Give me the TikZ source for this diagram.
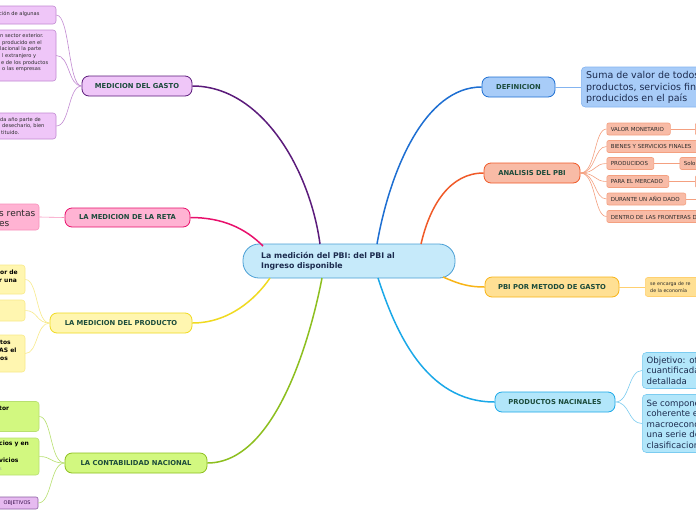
\documentclass[tikz,border=0pt]{standalone}
\usepackage{fontspec}
\setmainfont{DejaVu Sans}
\definecolor{cPur}{HTML}{5B1B7B}
\definecolor{cPurF}{HTML}{EFC6F8}
\definecolor{cPurL}{HTML}{C28AD2}
\definecolor{cMag}{HTML}{E8106C}
\definecolor{cMagF}{HTML}{FFB3D3}
\definecolor{cMagL}{HTML}{F890BC}
\definecolor{cYel}{HTML}{F0DA20}
\definecolor{cYelF}{HTML}{FFF6B0}
\definecolor{cYelL}{HTML}{F8EA8A}
\definecolor{cGrn}{HTML}{8DBF1F}
\definecolor{cGrnF}{HTML}{D2F880}
\definecolor{cGrnL}{HTML}{B8E070}
\definecolor{cBlu}{HTML}{1E6FD2}
\definecolor{cBluF}{HTML}{A8CCF8}
\definecolor{cBluL}{HTML}{84B4F0}
\definecolor{cOra}{HTML}{F05A28}
\definecolor{cOraF}{HTML}{F8BBA6}
\definecolor{cOraL}{HTML}{F4A080}
\definecolor{cGol}{HTML}{F8B416}
\definecolor{cGolF}{HTML}{FFE094}
\definecolor{cGolL}{HTML}{FFD070}
\definecolor{cCya}{HTML}{1AA8E8}
\definecolor{cCyaF}{HTML}{B2E6FA}
\definecolor{cCyaL}{HTML}{7CCCF0}
\definecolor{cCenF}{HTML}{C6EAFA}
\definecolor{cCenD}{HTML}{4A9FD5}
\definecolor{tGreen}{HTML}{1B4B3B}
\definecolor{tNavy}{HTML}{1C2B4E}
\definecolor{tDark}{HTML}{2A2A2A}
\begin{document}
\begin{tikzpicture}[x=1pt,y=-1pt,
  branch/.style={rounded corners=7pt, line width=0.8pt, minimum height=20pt, inner sep=0pt,
    font=\fontsize{6.8}{8}\selectfont\bfseries, text=tGreen},
  leaf/.style={rounded corners=3pt, line width=0.6pt, inner sep=0pt},
  small/.style={rounded corners=2pt, line width=0.6pt, inner xsep=4pt, inner ysep=0pt, minimum height=12pt,
    font=\fontsize{5.5}{6}\selectfont, text=tDark, anchor=west, align=left, text width=#1},
  txt/.style={inner sep=0pt, anchor=west, align=left, text=tDark},
  main/.style={line width=1.5pt},
  thin/.style={line width=0.6pt}
]
\useasboundingbox (0,0) rectangle (696,520);
\clip (0,0) rectangle (696,520);
\fill[white] (0,0) rectangle (696,520);

% central
\node[rounded corners=16pt, fill=cCenF, draw=cCenD, line width=0.8pt, minimum width=212pt, minimum height=34pt, inner sep=0pt] (c) at (349,261) {};
\node[txt, text=tNavy, font=\fontsize{7.8}{10.5}\selectfont\bfseries] (ct) at (261,261) {La medición del PBI: del PBI al\\Ingreso disponible};

% branch nodes
\node[branch, fill=cPurF, draw=cPur, minimum width=110pt] (gasto) at (137,86) {MEDICION DEL GASTO};
\node[branch, fill=cMagF, draw=cMag, minimum width=125pt, minimum height=19pt] (reta) at (127.5,217.5) {LA MEDICION DE LA RETA};
\node[branch, fill=cYelF, draw=cYel, minimum width=142pt] (prod) at (121,323) {LA MEDICION DEL PRODUCTO};
\node[branch, fill=cGrnF, draw=cGrn, minimum width=142pt] (cont) at (136,463) {LA CONTABILIDAD NACIONAL};
\node[branch, fill=cBluF, draw=cBlu, minimum width=73pt] (def) at (518.5,87) {DEFINICION};
\node[branch, fill=cOraF, draw=cOra, minimum width=96pt] (ana) at (532,173) {ANALISIS DEL PBI};
\node[branch, fill=cGolF, draw=cGol, minimum width=134pt] (pgas) at (552,287) {PBI POR METODO DE GASTO};
\node[branch, fill=cCyaF, draw=cCya, minimum width=120pt] (pnac) at (555,402) {PRODUCTOS NACINALES};

% central attach points
\coordinate (cA) at (320,244);
\coordinate (cB) at (263,246);
\coordinate (cC) at (270,278);
\coordinate (cD) at (322,278);
\coordinate (cE) at (377,244);
\coordinate (cF) at (421,244);
\coordinate (cG) at (443,277);
\coordinate (cH) at (378,278);

% main connectors
\draw[main, cPur] (gasto.east) .. controls (262,86) and (310,170) .. (cA);
\draw[main, cMag] (reta.east) .. controls (222,217.5) and (245,228) .. (cB);
\draw[main, cYel] (prod.east) .. controls (228,323) and (255,300) .. (cC);
\draw[main, cGrn] (cont.east) .. controls (275,463) and (310,340) .. (cD);
\draw[main, cBlu] (def.west) .. controls (425,87) and (390,170) .. (cE);
\draw[main, cOra] (ana.west) .. controls (450,173) and (430,205) .. (cF);
\draw[main, cGol] (pgas.west) .. controls (465,287) and (455,282) .. (cG);
\draw[main, cCya] (pnac.west) .. controls (425,402) and (395,330) .. (cH);

% MEDICION DEL GASTO children
\node[leaf, fill=cPurF, draw=cPurL, minimum width=76pt, minimum height=18pt] (g1) at (18,15) {};
\node[leaf, fill=cPurF, draw=cPurL, minimum width=76pt, minimum height=51pt] (g2) at (18,55.5) {};
\node[leaf, fill=cPurF, draw=cPurL, minimum width=76pt, minimum height=26pt] (g3) at (18,126) {};
\node[txt, font=\fontsize{5.1}{6.67}\selectfont] (g1t) at (-1,13.5) {ción de algunas};
\node[txt, font=\fontsize{5.1}{6.67}\selectfont] (g2t) at (-1,52.7) {\hspace*{1pt}n sector exterior.\\\hspace*{3pt}producido en el\\\hspace*{1pt}lacional la parte\\\hspace*{3pt}l extranjero y\\\hspace*{2pt}e de los productos\\\hspace*{3pt}o las empresas};
\node[txt, font=\fontsize{5.1}{6.67}\selectfont] (g3t) at (-1,126) {\hspace*{1pt}da año parte de\\\hspace*{3pt}desechario, bien\\\hspace*{2pt}tituido.};
\foreach \n in {g1,g2,g3}{
  \draw[thin, cPurL] (gasto.west) .. controls (68,86) and (70,0|-\n.east) .. (\n.east);
}

% RETA child
\node[leaf, fill=cMagF, draw=cMagL, minimum width=59pt, minimum height=26pt] (r1) at (9.5,217) {};
\node[txt, font=\fontsize{9}{10}\selectfont, text=tDark] (r1t) at (-1,218) {s rentas\\es};
\draw[thin, cMagL] (reta.west) -- (r1.east);

% PRODUCTO children
\node[leaf, fill=cYelF, draw=cYelL, minimum width=45pt, minimum height=29pt] (p1) at (2.5,279.5) {};
\node[leaf, fill=cYelF, draw=cYelL, minimum width=45pt, minimum height=21pt] (p2) at (2.5,310.5) {};
\node[leaf, fill=cYelF, draw=cYelL, minimum width=45pt, minimum height=37pt] (p3) at (2.5,353.5) {};
\node[txt, font=\fontsize{6}{8.3}\selectfont\bfseries, text=black] (p1t) at (-1,276) {\hspace*{1pt}or de\\r una};
\node[txt, font=\fontsize{6}{8.1}\selectfont\bfseries, text=black] (p3t) at (-1,350.5) {\hspace*{1pt}tos\\AS el\\\hspace*{1pt}os};
\foreach \n in {p1,p2,p3}{
  \draw[thin, cYelL] (prod.west) .. controls (36,323) and (38,0|-\n.east) .. (\n.east);
}

% CONTABILIDAD children
\node[leaf, fill=cGrnF, draw=cGrnL, minimum width=59pt, minimum height=30pt] (k1) at (9.5,416.5) {};
\node[leaf, fill=cGrnF, draw=cGrnL, minimum width=59pt, minimum height=37pt] (k2) at (9.5,456.5) {};
\node[leaf, fill=cPurF!80!cPurL, draw=cPur!70, minimum width=58pt, minimum height=12pt, rounded corners=2pt] (k3) at (9,503) {};
\node[txt, font=\fontsize{6}{8.7}\selectfont\bfseries, text=black] (k1t) at (-1,408.5) {tor};
\node[txt, font=\fontsize{6}{8.7}\selectfont\bfseries, text=black] (k2t) at (-1,452) {cios y en\\[8.7pt]vicios};
\node[txt, font=\fontsize{5}{6}\selectfont, text=gray!70] (k2s) at (-1,469.5) {s};
\node[txt, font=\fontsize{5}{6}\selectfont, text=cPur!60!black] (k3t) at (3.5,503.5) {OBJETIVOS};
\foreach \n in {k1,k2,k3}{
  \draw[thin, cGrnL] (cont.west) .. controls (50,463) and (52,0|-\n.east) .. (\n.east);
}

% DEFINICION child
\node[leaf, fill=cBluF, draw=cBluL, minimum width=130pt, minimum height=40pt, anchor=west, rounded corners=4pt] (d1) at (581,87) {};
\node[txt, font=\fontsize{9.5}{11.3}\selectfont, text=tNavy] (d1t) at (586,87.5) {Suma de valor de todos\\productos, servicios fin\\producidos en el país};
\draw[thin, cBluL, line width=1pt] (def.east) -- (d1.west);

% ANALISIS children
\node[small=55.5pt, fill=cOraF, draw=cOraL] (a1) at (606.5,129) {\mbox{VALOR MONETARIO}};
\node[small=110pt, fill=cOraF, draw=cOraL] (a2) at (606.5,146.5) {\mbox{BIENES Y SERVICIOS FINALES}};
\node[small=39pt, fill=cOraF, draw=cOraL] (a3) at (606.5,163.5) {\mbox{PRODUCIDOS}};
\node[small=54pt, fill=cOraF, draw=cOraL] (a4) at (606.5,181.5) {\mbox{PARA EL MERCADO}};
\node[small=71pt, fill=cOraF, draw=cOraL] (a5) at (606.5,199) {\mbox{DURANTE UN AÑO DADO}};
\node[small=110pt, fill=cOraF, draw=cOraL] (a6) at (606.5,216.5) {\mbox{DENTRO DE LAS FRONTERAS DEL PAÍS}};
\node[small=32pt, fill=cOraF, draw=cOraL] (a1b) at (695,129) {};
\node[small=32pt, fill=cOraF, draw=cOraL] (a3b) at (679.5,163.5) {\mbox{Solo}};
\node[small=32pt, fill=cOraF, draw=cOraL] (a4b) at (695,181.5) {};
\coordinate (a5e) at (697,199);
\foreach \n in {a1,a2,a3,a4,a5,a6}{
  \draw[thin, cOraL] (ana.east) .. controls (596,173) and (594,0|-\n.west) .. (\n.west);
}
\draw[thin, cOraL] (a1.east) -- (a1b.west);
\draw[thin, cOraL] (a3.east) -- (a3b.west);
\draw[thin, cOraL] (a4.east) -- (a4b.west);
\draw[thin, cOraL] (a5.east) -- (a5e);

% PBI POR METODO DE GASTO child
\node[leaf, fill=cGolF, draw=cGolL, minimum width=70pt, minimum height=19pt, anchor=west, rounded corners=2.5pt] (q1) at (645,287) {};
\node[txt, font=\fontsize{4.8}{6.7}\selectfont, text=tDark] (q1t) at (650,287.3) {se encarga de re\\de la economía};
\draw[thin, cGolL] (pgas.east) -- (q1.west);

% PRODUCTOS NACINALES children
\node[leaf, fill=cCyaF, draw=cCyaL, minimum width=70pt, minimum height=36pt, anchor=west, rounded corners=4pt] (n1) at (642,370.5) {};
\node[leaf, fill=cCyaF, draw=cCyaL, minimum width=70pt, minimum height=58pt, anchor=west, rounded corners=4pt] (n2) at (642,423.5) {};
\node[txt, font=\fontsize{8.6}{10.35}\selectfont, text=tNavy] (n1t) at (646.5,370.5) {Objetivo: of\\cuantificada\\detallada};
\node[txt, font=\fontsize{8.6}{10.4}\selectfont, text=tNavy] (n2t) at (646.5,424.2) {Se compone\\coherente e\\macroeconó\\una serie de\\clasificacion};
\foreach \n in {n1,n2}{
  \draw[thin, cCyaL] (pnac.east) .. controls (630,402) and (628,0|-\n.west) .. (\n.west);
}
\end{tikzpicture}
\end{document}
